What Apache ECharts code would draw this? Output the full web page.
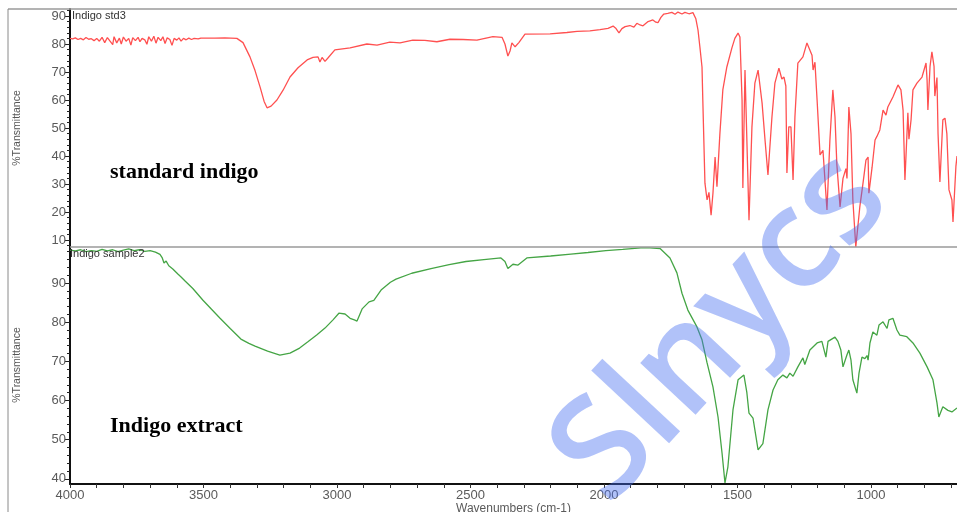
<!DOCTYPE html>
<html><head><meta charset="utf-8">
<script src="https://cdn.jsdelivr.net/npm/echarts@6/dist/echarts.min.js"></script>
<style>html,body{margin:0;padding:0;background:#fff}#c{width:957px;height:512px}</style>
</head><body><div id="c"></div>
<script>
// Tick labels
const xTickLabels = [4000, 3500, 3000, 2500, 2000, 1500, 1000];
const yTickLabelsTop = [10, 20, 30, 40, 50, 60, 70, 80, 90];
const yTickLabelsBottom = [40, 50, 60, 70, 80, 90];
const seriesNames = ['Indigo std3', 'Indigo sample2'];

// Standard indigo spectrum [wavenumber, %T]
const stdSpectrum = [
[4000,82],[3990,81.8],[3980,82.2],[3970,81.6],[3960,82.0],[3950,81.5],[3940,82.3],[3930,81.7],[3920,81.9],[3910,81.2],
[3900,82.0],[3890,81.0],[3880,82.4],[3870,80.5],[3860,82.3],[3850,81.0],[3840,79.8],[3835,82.6],[3825,80.4],[3815,82.1],
[3808,80.0],[3800,82.5],[3790,81.0],[3780,82.0],[3772,79.6],[3765,82.3],[3755,81.2],[3745,82.4],[3738,80.8],[3730,82.0],
[3720,81.5],[3712,79.9],[3705,82.6],[3695,81.0],[3686,82.8],[3678,80.3],[3670,82.4],[3660,81.2],[3652,82.6],[3644,80.2],
[3636,82.2],[3626,81.6],[3618,79.5],[3610,82.0],[3600,81.4],[3592,82.2],[3584,81.0],[3575,82.0],[3565,81.5],[3555,82.1],
[3545,81.6],[3535,82.0],[3520,81.8],[3510,82.1],[3457,82.1],[3420,82.2],[3375,82.0],[3352,80.5],[3326,75.4],[3307,70.5],
[3288,64.6],[3273,59.5],[3262,57.2],[3247,57.8],[3225,60],[3202,63.5],[3176,68.2],[3146,71.5],[3112,74.3],[3090,75.2],
[3071,75.4],[3064,73.6],[3056,75.2],[3045,73.8],[3034,75.0],[3008,77.9],[2951,78.6],[2888,80.0],[2850,79.6],[2802,80.7],
[2764,80.4],[2716,81.4],[2671,81.3],[2626,80.8],[2577,81.7],[2528,81.6],[2476,81.4],[2416,82.6],[2382,82.4],[2371,80.0],
[2360,75.7],[2352,77.5],[2345,80.4],[2333,79.0],[2319,80.5],[2296,83.5],[2202,83.6],[2139,84.1],[2101,84.5],[2053,84.7],
[2015,85.1],[1985,85.6],[1966,86.4],[1955,85.5],[1944,84.0],[1933,85.5],[1921,86.2],[1903,86.6],[1888,86.0],[1877,87.4],
[1865,86.8],[1854,86.5],[1835,88.0],[1817,88.6],[1806,87.8],[1798,87.6],[1787,89.5],[1776,90.7],[1761,90.9],[1746,91.3],
[1734,90.6],[1723,91.4],[1708,90.7],[1697,91.3],[1682,90.8],[1667,91.2],[1656,89.0],[1648,85],[1641,79],[1633,71.8],
[1630,60],[1622,30.3],[1614,24.3],[1607,27.0],[1599,18.9],[1592,26.7],[1584,39.6],[1577,29],[1566,48],[1555,63.6],
[1540,71.8],[1521,78.6],[1510,82],[1498,83.9],[1491,82.5],[1483,60],[1480,28.6],[1472,70.7],[1465,70.7],[1457,17.1],
[1446,50.4],[1435,66],[1423,70.7],[1408,58.9],[1397,45.7],[1386,33.2],[1371,54],[1360,66],[1345,71.4],[1334,67.5],
[1326,68.2],[1319,65],[1315,33.9],[1308,50.4],[1300,50.4],[1292,31.4],[1285,54],[1274,73.2],[1255,75.4],[1240,80.4],
[1221,76],[1217,70.7],[1210,73.5],[1202,60],[1191,40.4],[1180,42],[1165,20.7],[1154,45.7],[1143,63.6],[1135,54],
[1128,37],[1116,21.8],[1105,32],[1094,35.5],[1090,32],[1083,57.5],[1075,48],[1068,24.3],[1057,7.5],[1042,21.8],
[1030,30.3],[1019,38.5],[1011,39.6],[1008,26.7],[996,36],[985,45.7],[978,47],[967,49.3],[955,56.4],[944,54.6],
[937,57.5],[918,61.1],[899,65.4],[888,63.6],[880,56.4],[873,31.4],[862,55.4],[858,46],[850,53],[843,63.6],
[828,66],[809,68.2],[794,73.2],[790,67],[787,56.4],[779,72],[772,77.2],[764,72],[761,61.4],[753,68],
[749,48],[742,30.7],[731,52.9],[723,53.5],[716,48],[708,27.9],[697,24.3],[693,16.4],[682,36.4],[678,40]
];

// Indigo extract spectrum [wavenumber, %T]
const extSpectrum = [
[4000,98.4],[3980,98.2],[3960,98.5],[3940,98.0],[3920,98.3],[3900,98.1],[3880,98.6],[3860,98.2],[3840,98.5],[3820,98.0],
[3800,98.4],[3780,98.7],[3760,98.3],[3740,98.5],[3720,98.1],[3700,98.3],[3680,97.9],[3663,97.3],[3655,96.5],[3648,95.1],
[3640,95.6],[3630,94.4],[3615,93.6],[3596,92.3],[3585,91.6],[3569,90.5],[3540,88.6],[3502,85.6],[3470,83.3],[3438,81],
[3400,78.4],[3360,75.7],[3330,74.6],[3307,73.9],[3260,72.6],[3214,71.6],[3176,72.1],[3140,73.4],[3109,75],[3075,76.8],
[3045,78.5],[3015,80.6],[2993,82.3],[2970,82.1],[2951,81],[2935,80.6],[2925,80.3],[2906,83.4],[2880,85.2],[2862,85.6],
[2835,88.2],[2800,90.2],[2779,91],[2720,92.5],[2648,93.7],[2580,94.7],[2517,95.5],[2450,96.0],[2386,96.4],[2371,95.5],
[2360,93.7],[2341,94.8],[2322,94.6],[2289,96.4],[2200,96.9],[2124,97.4],[2060,97.8],[1993,98.3],[1930,98.6],[1862,99],
[1828,99],[1790,98.8],[1753,96.4],[1727,92.6],[1708,87.4],[1686,83.1],[1652,78.8],[1633,75.5],[1614,69.6],[1592,63.5],
[1573,55.8],[1558,46.6],[1547,39],[1536,43.1],[1517,57.6],[1498,65.3],[1476,66.5],[1465,62],[1457,56.8],[1442,55.5],
[1423,47.4],[1405,49],[1386,57.6],[1367,62.7],[1349,65.3],[1330,66.5],[1315,65.8],[1304,67],[1292,66.2],[1274,68.6],
[1255,70.9],[1248,69.2],[1229,72.9],[1202,74.7],[1184,75.1],[1180,75.5],[1169,71.1],[1161,75.1],[1135,76.2],[1124,75.1],
[1113,72.9],[1105,68.6],[1090,71.7],[1083,72.9],[1075,70.3],[1068,65.3],[1053,61.9],[1045,67],[1034,71.1],[1023,70.7],
[1015,71.5],[1011,70.3],[1004,74.7],[993,77.5],[978,76.7],[970,79.3],[955,80.1],[940,78.4],[933,80.6],[918,81],
[903,78],[892,76.7],[866,76.3],[843,74.7],[817,72.1],[790,68.6],[768,65.3],[753,59.4],[746,55.8],[731,58.4],
[712,57.5],[697,57.1],[678,58.1]
];

const xMinorTicks = [];
for (let v = 4000; v >= 700; v -= 100) xMinorTicks.push(v);
const yMinorTop = [];
for (let v = 8; v <= 92; v += 2) if (v % 10 !== 0) yMinorTop.push(v);
const yMinorBottom = [];
for (let v = 40; v <= 98; v += 2) if (v % 10 !== 0) yMinorBottom.push(v);

const chart = echarts.init(document.getElementById('c'), null, {renderer: 'canvas'});
const FONT = '"Liberation Sans", Arial, sans-serif';
const labelStyle = {color: '#5a5a5a', fontSize: 13, fontFamily: FONT, formatter: function (v) { return String(v); }};

function yMain(grid, min, max, labels) {
  return {
    gridIndex: grid, type: 'value', min: min, max: max,
    axisLine: {show: true, lineStyle: {color: '#111', width: 2}},
    axisTick: {show: true, customValues: labels, length: 5, lineStyle: {color: '#222', width: 1}},
    axisLabel: {show: true, customValues: labels, margin: 4, ...labelStyle},
    splitLine: {show: false}
  };
}
function yMinor(grid, min, max, ticks) {
  return {
    gridIndex: grid, type: 'value', min: min, max: max, position: 'left',
    axisLine: {show: false},
    axisTick: {show: true, customValues: ticks, length: 3, lineStyle: {color: '#222', width: 1}},
    axisLabel: {show: false},
    splitLine: {show: false}
  };
}

const option = {
  animation: false,
  backgroundColor: '#fff',
  grid: [
    {left: 70, top: 9, width: 887, height: 238, outerBoundsMode: 'none', containLabel: false},
    {left: 70, top: 247, width: 887, height: 237, outerBoundsMode: 'none', containLabel: false}
  ],
  xAxis: [
    {gridIndex: 0, type: 'value', min: 678, max: 4000, inverse: true,
     axisLine: {show: false}, axisTick: {show: false}, axisLabel: {show: false}, splitLine: {show: false}},
    {gridIndex: 1, type: 'value', min: 678, max: 4000, inverse: true,
     axisLine: {show: true, lineStyle: {color: '#111', width: 2}},
     axisTick: {show: true, customValues: xMinorTicks, length: 4, lineStyle: {color: '#333'}},
     axisLabel: {show: true, customValues: xTickLabels, margin: 5, ...labelStyle},
     splitLine: {show: false},
     name: 'Wavenumbers (cm-1)', nameLocation: 'middle', nameGap: 19,
     nameTextStyle: {color: '#5a5a5a', fontSize: 12, fontFamily: FONT, verticalAlign: 'top'}}
  ],
  yAxis: [
    yMain(0, 7.5, 92.5, yTickLabelsTop),
    yMinor(0, 7.5, 92.5, yMinorTop),
    yMain(1, 38.7, 99.2, yTickLabelsBottom),
    yMinor(1, 38.7, 99.2, yMinorBottom)
  ],
  series: [
    {name: seriesNames[0], type: 'line', xAxisIndex: 0, yAxisIndex: 0, data: stdSpectrum,
     showSymbol: false, symbol: 'none', clip: true, lineStyle: {color: '#ff5050', width: 1.3}},
    {name: seriesNames[1], type: 'line', xAxisIndex: 1, yAxisIndex: 2, data: extSpectrum,
     showSymbol: false, symbol: 'none', clip: true, lineStyle: {color: '#45a545', width: 1.3}}
  ],
  graphic: [
    {type: 'line', shape: {x1: 8, y1: 9, x2: 957, y2: 9}, style: {stroke: '#9a9a9a', lineWidth: 1.5}, z: 10},
    {type: 'line', shape: {x1: 70, y1: 247, x2: 957, y2: 247}, style: {stroke: '#9a9a9a', lineWidth: 1.5}, z: 10},
    {type: 'line', shape: {x1: 8, y1: 9, x2: 8, y2: 512}, style: {stroke: '#8a8a8a', lineWidth: 1}, z: 10},
    {type: 'text', x: 72, y: 16, style: {text: seriesNames[0], font: '11px ' + FONT, fill: '#333', textVerticalAlign: 'middle'}, z: 10},
    {type: 'text', x: 70, y: 254, style: {text: seriesNames[1], font: '11px ' + FONT, fill: '#333', textVerticalAlign: 'middle'}, z: 10},
    {type: 'text', x: 17, y: 128, rotation: Math.PI / 2, style: {text: '%Transmittance', font: '10.5px ' + FONT, fill: '#555', textAlign: 'center', textVerticalAlign: 'middle'}, z: 10},
    {type: 'text', x: 17, y: 365, rotation: Math.PI / 2, style: {text: '%Transmittance', font: '10.5px ' + FONT, fill: '#555', textAlign: 'center', textVerticalAlign: 'middle'}, z: 10},
    {type: 'text', x: 110, y: 172, style: {text: 'standard indigo', font: 'bold 22px "Liberation Serif", "Times New Roman", serif', fill: '#000', textVerticalAlign: 'middle'}, z: 10},
    {type: 'text', x: 110, y: 426, style: {text: 'Indigo extract', font: 'bold 22px "Liberation Serif", "Times New Roman", serif', fill: '#000', textVerticalAlign: 'middle'}, z: 10},
    {type: 'text', x: 722, y: 328, rotation: 0.82, style: {text: 'Slnycs', font: '600 140px "Open Sans", sans-serif', fill: 'rgba(70,110,240,0.42)', textAlign: 'center', textVerticalAlign: 'middle'}, z: 20}
  ]
};
chart.setOption(option);
</script>
</body></html>
